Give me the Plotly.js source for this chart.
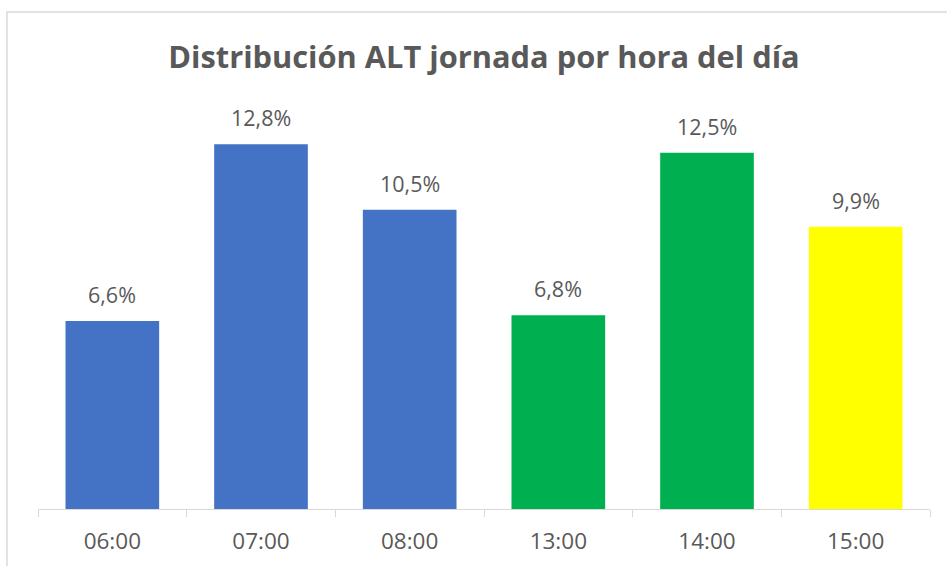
<!DOCTYPE html>
<html>
<head>
<meta charset="utf-8">
<script src="https://cdn.plot.ly/plotly-3.0.1.min.js"></script>
<style>
html,body{margin:0;padding:0;background:#fff;}
#chart{width:947px;height:566px;}
</style>
</head>
<body>
<div id="chart"></div>
<script>
const categories = ["06:00", "07:00", "08:00", "13:00", "14:00", "15:00"];
const values = [6.6, 12.8, 10.5, 6.8, 12.5, 9.9];
const barColors = ["#4472C4", "#4472C4", "#4472C4", "#00B050", "#00B050", "#FFFF00"];
const titleText = "Distribución ALT jornada por hora del día";

const labels = values.map(v => v.toFixed(1).replace(".", ",") + "%");
const FONT = "'Open Sans', 'Noto Sans', sans-serif";
const GREY = "#595959";

const trace = {
  type: "bar",
  x: categories,
  y: values,
  marker: {color: barColors, line: {width: 0}},
  hoverinfo: "none"
};

const annotations = categories.map((c, i) => ({
  x: c, y: values[i], xref: "x", yref: "y",
  text: labels[i], showarrow: false,
  yanchor: "bottom", yshift: 10,
  font: {family: FONT, size: 21.5, color: GREY}
}));

const layout = {
  width: 947, height: 566,
  margin: {l: 38, r: 17, t: 100, b: 57},
  paper_bgcolor: "#ffffff", plot_bgcolor: "#ffffff",
  showlegend: false,
  bargap: 0.37,
  title: {
    text: titleText, xref: "paper", x: 0.5, xanchor: "center",
    yref: "container", y: 1 - 57/566, yanchor: "middle",
    font: {family: FONT, size: 30.8, color: GREY, weight: "bold"}
  },
  xaxis: {
    type: "category",
    showline: true, linecolor: "#d9d9d9", linewidth: 1,
    ticks: "outside", tickson: "boundaries", ticklen: 7, tickcolor: "#d9d9d9", tickwidth: 1,
    ticklabelstandoff: 12,
    tickfont: {family: FONT, size: 22.5, color: GREY},
    showgrid: false, zeroline: false, fixedrange: true
  },
  yaxis: {
    range: [0, 14.35], visible: false, showgrid: false, zeroline: false, fixedrange: true
  },
  annotations: annotations,
  shapes: [{
    type: "path", xref: "paper", yref: "paper",
    path: "M -0.0348 -0.2 L -0.0348 1.2152 L 1.05 1.2152",
    line: {color: "#d9d9d9", width: 1.5}, layer: "below"
  }]
};

Plotly.newPlot("chart", [trace], layout, {staticPlot: true, displayModeBar: false});
</script>
</body>
</html>
